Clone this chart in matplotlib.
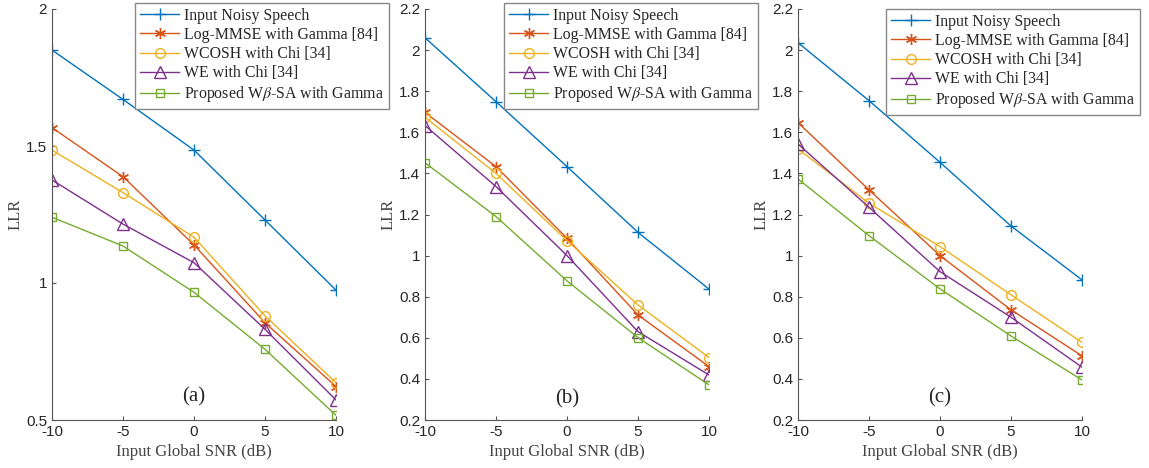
import matplotlib
matplotlib.use("Agg")
import matplotlib.pyplot as plt
from matplotlib.ticker import FuncFormatter

plt.rcParams['mathtext.fontset'] = 'stix'
plt.rcParams['axes.unicode_minus'] = False

snr = [-10, -5, 0, 5, 10]
names = ["Input Noisy Speech", "Log-MMSE with Gamma [84]", "WCOSH with Chi [34]",
         "WE with Chi [34]", r"Proposed W$\beta$-SA with Gamma"]

# LLR values per panel
llr_a = [
    [1.850, 1.670, 1.485, 1.230, 0.974],
    [1.567, 1.388, 1.139, 0.855, 0.622],
    [1.485, 1.330, 1.167, 0.880, 0.636],
    [1.376, 1.215, 1.074, 0.831, 0.573],
    [1.240, 1.135, 0.966, 0.758, 0.517],
]
llr_b = [
    [2.060, 1.749, 1.433, 1.113, 0.837],
    [1.697, 1.433, 1.084, 0.711, 0.460],
    [1.673, 1.400, 1.073, 0.760, 0.504],
    [1.633, 1.336, 1.000, 0.630, 0.419],
    [1.452, 1.190, 0.877, 0.601, 0.371],
]
llr_c = [
    [2.036, 1.754, 1.454, 1.144, 0.882],
    [1.647, 1.320, 1.000, 0.736, 0.512],
    [1.519, 1.255, 1.044, 0.809, 0.578],
    [1.543, 1.235, 0.922, 0.700, 0.457],
    [1.373, 1.097, 0.838, 0.609, 0.395],
]

colors = ["#0072BD", "#D95319", "#EDB120", "#7E2F8E", "#77AC30"]
markers = ["+", (6, 2, 0), "o", "^", "s"]
msizes = [8, 8, 7, 8, 6]

W, H = 1149, 468
fig = plt.figure(figsize=(W / 100, H / 100), dpi=100)

panels = [
    (llr_a, 52, (0.5, 2.0), [0.5, 1, 1.5, 2], "(a)", 0.585, (135, 3)),
    (llr_b, 425, (0.2, 2.2), [0.2, 0.4, 0.6, 0.8, 1, 1.2, 1.4, 1.6, 1.8, 2, 2.2], "(b)", 0.305, (504, 3)),
    (llr_c, 798, (0.2, 2.2), [0.2, 0.4, 0.6, 0.8, 1, 1.2, 1.4, 1.6, 1.8, 2, 2.2], "(c)", 0.31, (886, 9)),
]

gray = "#262626"
for data, left, ylim, yticks, tag, tagy, lpos in panels:
    ax = fig.add_axes([left / W, 1 - 420 / H, 284 / W, 411 / H])
    for vals, c, m, ms, nm in zip(data, colors, markers, msizes, names):
        ax.plot(snr, vals, color=c, marker=m, ms=ms, mfc="none", mew=1.0, lw=1.0, label=nm)
    ax.set_xlim(-10, 10)
    ax.set_ylim(*ylim)
    ax.set_xticks(snr)
    ax.set_yticks(yticks)
    ax.yaxis.set_major_formatter(FuncFormatter(lambda v, p: ("%g" % round(v, 2))))
    for s in ["top", "right"]:
        ax.spines[s].set_visible(False)
    for s in ["left", "bottom"]:
        ax.spines[s].set_color("#555555")
        ax.spines[s].set_linewidth(0.8)
    ax.tick_params(direction="in", length=3, colors="#555555", labelcolor=gray, labelsize=11)
    for lab in ax.get_xticklabels() + ax.get_yticklabels():
        lab.set_family("Liberation Sans")
    ax.set_xlabel("Input Global SNR (dB)", family="Liberation Serif", fontsize=12, color="#444444", labelpad=4)
    ax.set_ylabel("LLR", family="Liberation Serif", fontsize=12, color="#444444", labelpad=2)
    ax.text(0, tagy, tag, ha="center", va="center", family="Liberation Serif", fontsize=15, color=gray)
    leg = fig.legend(*ax.get_legend_handles_labels(),
                     loc="upper left", bbox_to_anchor=(lpos[0] / W, 1 - lpos[1] / H),
                     fancybox=False, framealpha=1, edgecolor="#888888",
                     prop={"family": "Liberation Serif", "size": 11.4}, handlelength=2.5,
                     labelspacing=0.2, borderpad=0.3, handletextpad=0.3, borderaxespad=0)
    leg.get_frame().set_linewidth(1.0)
    for t in leg.get_texts():
        t.set_color(gray)

fig.savefig("out.png", dpi=100)
